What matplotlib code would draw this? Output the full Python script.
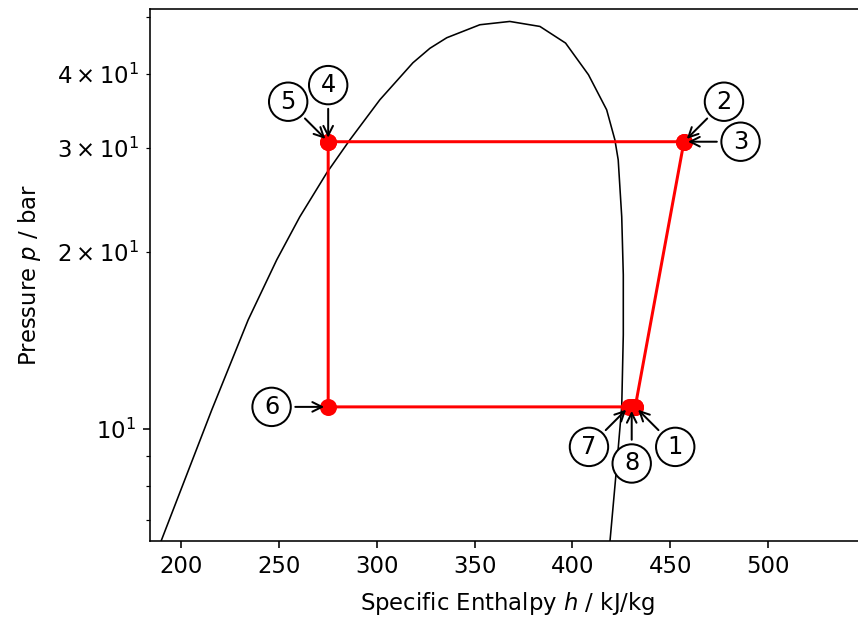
import matplotlib
matplotlib.use("Agg")
import matplotlib.pyplot as plt

# Saturation dome
h_liq = [189.8, 215.7, 234.3, 248.9, 260.7, 274.5, 286.3, 301.6, 318.5, 327.2,
         335.8, 352.7, 368.0]
p_liq = [6.45, 10.77, 15.31, 19.36, 22.91, 27.21, 30.95, 36.19, 41.82, 44.26,
         46.12, 48.52, 49.15]
h_vap = [383.4, 396.5, 408.2, 417.5, 421.7, 423.4, 425.2, 426.0, 426.0, 425.2,
         422.6, 419.2]
p_vap = [48.20, 45.17, 39.91, 34.80, 30.95, 28.62, 22.91, 18.26, 14.44, 10.91,
         8.62, 6.45]

# Cycle state points 1..8
state_labels = ["1", "2", "3", "4", "5", "6", "7", "8"]
h_cycle = [432.1, 457.0, 457.0, 275.2, 275.2, 275.2, 428.9, 430.3]
p_cycle = [10.90, 30.72, 30.72, 30.72, 30.72, 10.90, 10.90, 10.90]

# label offsets (pixels) of each annotation
label_dx = [40, 40, 56.6, 0, -40, -56.6, -40, 0]
label_dy = [-40, 40, 0, 56.6, 40, 0, -40, -56.6]

plt.rcParams["font.size"] = 11.4

DPI = 144
fig = plt.figure(figsize=(858 / DPI, 623 / DPI), dpi=DPI)
ax = fig.add_axes([150 / 858, 82 / 623, 714 / 858, 532 / 623])

ax.plot(h_liq + h_vap, p_liq + p_vap, color="black", lw=0.8)

ax.plot(h_cycle + [h_cycle[0]], p_cycle + [p_cycle[0]], color="red", lw=1.5,
        marker="o", markersize=7.5)

for lab, h, p, dx, dy in zip(state_labels, h_cycle, p_cycle, label_dx, label_dy):
    ax.annotate(lab, xy=(h, p), xytext=(dx, dy), textcoords="offset pixels",
                ha="center", va="center", fontsize=12,
                bbox=dict(boxstyle="circle", fc="white", ec="black"),
                arrowprops=dict(arrowstyle="->", color="black"))

ax.set_yscale("log")
ax.set_xlim(184.15, 549)
ax.set_ylim(6.454, 51.6)
ax.set_xlabel("Specific Enthalpy $h$ / kJ/kg", labelpad=6)
ax.set_ylabel("Pressure $p$ / bar", labelpad=7)

fig.savefig("out.png", dpi=DPI)
